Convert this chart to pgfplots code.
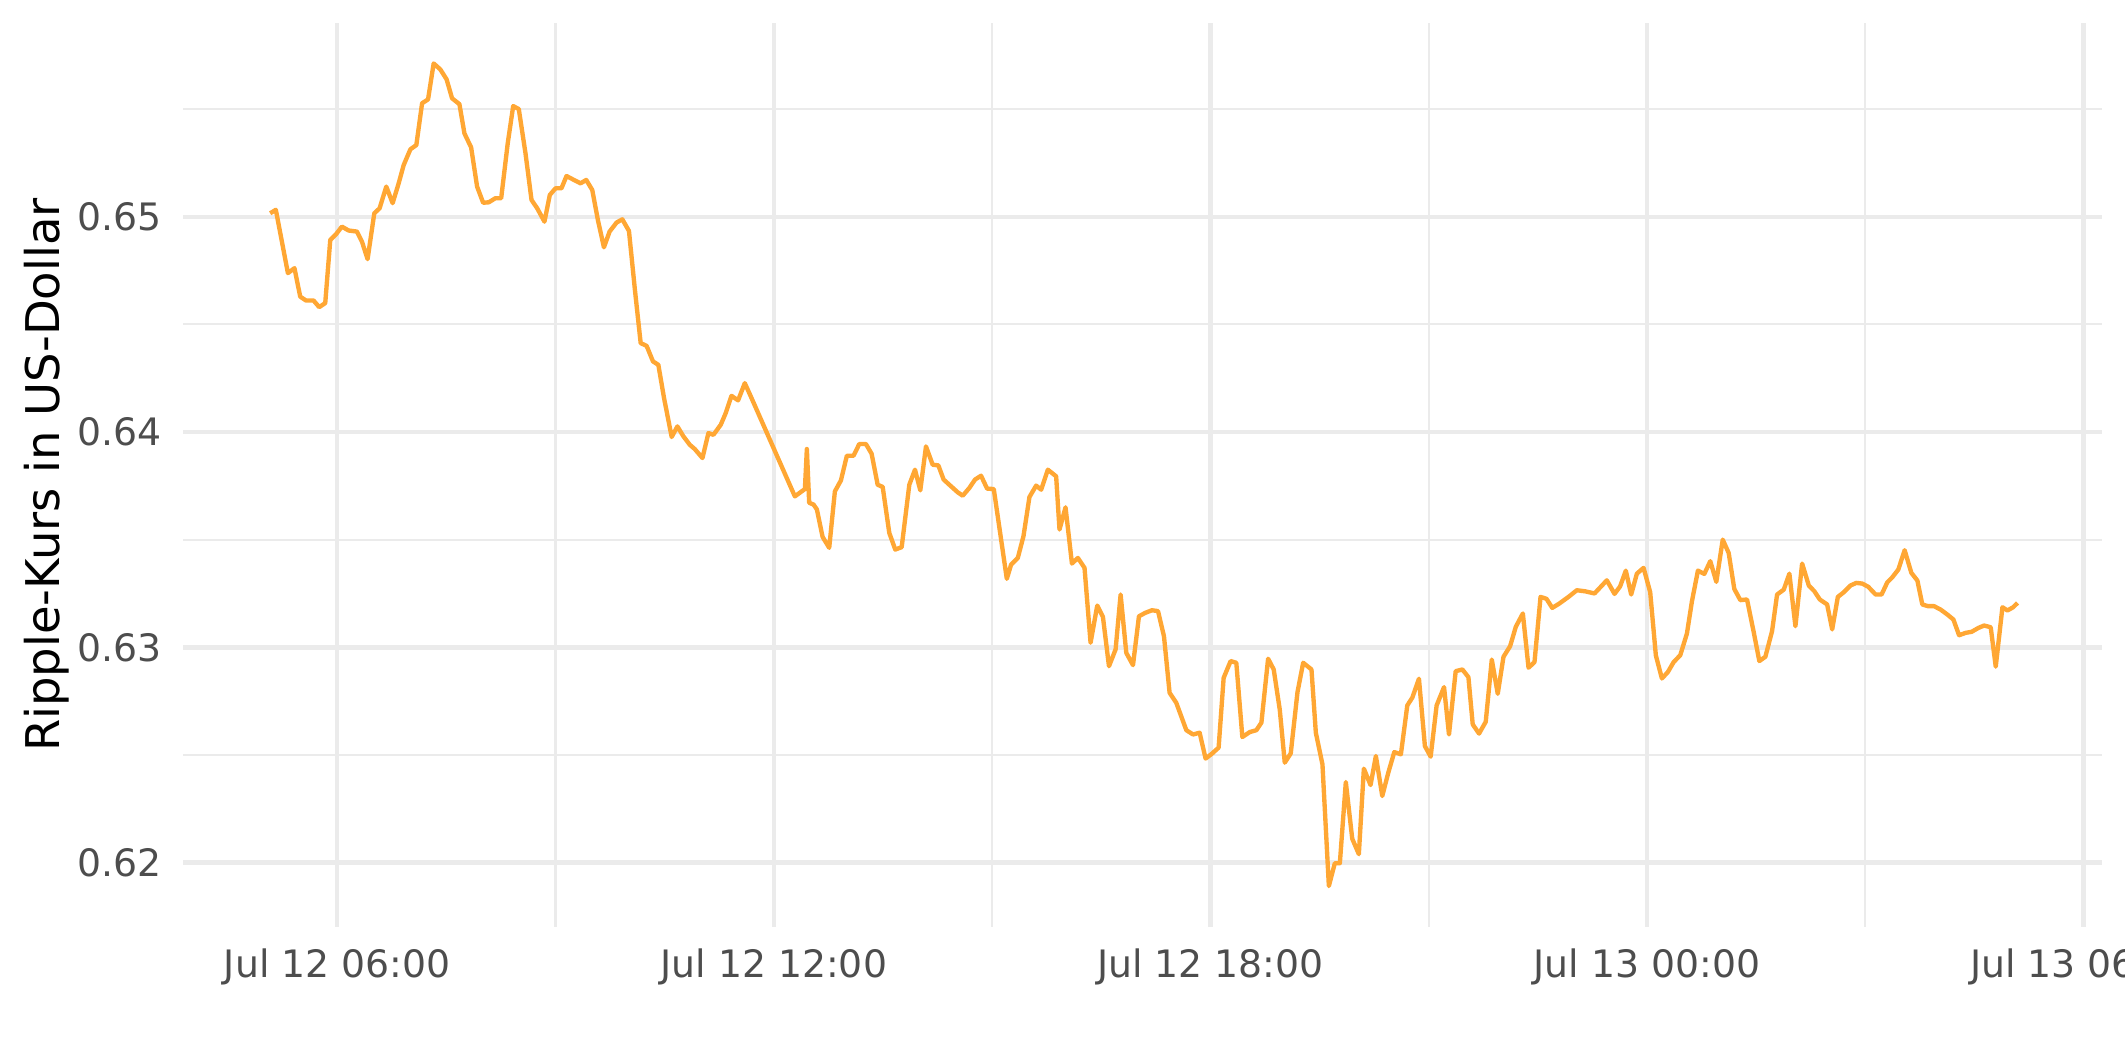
\documentclass[border=0pt]{standalone}
\usepackage{pgfplots}
\pgfplotsset{compat=1.18}
\usepackage{fontspec}
\setmainfont{DejaVu Sans}
\definecolor{lineor}{RGB}{255,167,52}
\definecolor{gridc}{RGB}{235,235,235}
\definecolor{ticktext}{RGB}{77,77,77}
\begin{document}
\begin{tikzpicture}
\useasboundingbox (-44.08pt,-32.45pt) rectangle (467.8pt,223.34pt);
\begin{axis}[at={(0,0)}, anchor=south west, scale only axis,
 width=462.2pt, height=217.8pt,
 xmin=3.88, xmax=30.25, ymin=0.617, ymax=0.659,
 axis line style={draw=none}, major tick length=0pt, minor tick length=0pt,
 xtick={6,12,18,24,30},
 xticklabels={Jul 12 06:00, Jul 12 12:00, Jul 12 18:00, Jul 13 00:00, Jul 13 06:00},
 minor xtick={9,15,21,27},
 ytick={0.62,0.63,0.64,0.65}, yticklabels={0.62,0.63,0.64,0.65},
 minor ytick={0.625,0.635,0.645,0.655},
 grid=both,
 major grid style={draw=gridc, line width=1.07pt},
 minor grid style={draw=gridc, line width=0.53pt},
 ticklabel style={font=\fontsize{9.1}{10}\selectfont, text=ticktext},
 xticklabel style={yshift=-1.6pt},
 yticklabel style={xshift=-1.6pt},
 ylabel={Ripple-Kurs in US-Dollar},
 ylabel style={font=\fontsize{11.2}{13}\selectfont, text=black, at={(axis description cs:-0.071,0.5)}, anchor=center},
]
\addplot[color=lineor, line width=1.05pt, line join=round] coordinates {
(5.078,0.65016) (5.156,0.65032) (5.322,0.64738) (5.412,0.64761) (5.491,0.64629)
(5.569,0.64611) (5.674,0.64611) (5.752,0.64580) (5.835,0.64599) (5.904,0.64892)
(5.986,0.64920) (6.064,0.64954) (6.156,0.64936) (6.271,0.64931) (6.340,0.64884)
(6.417,0.64803) (6.509,0.65016) (6.582,0.65039) (6.674,0.65140) (6.761,0.65063)
(6.844,0.65155) (6.913,0.65240) (7.005,0.65313) (7.087,0.65333) (7.166,0.65527)
(7.248,0.65545) (7.325,0.65712) (7.417,0.65684) (7.503,0.65638) (7.578,0.65550)
(7.679,0.65523) (7.748,0.65387) (7.840,0.65322) (7.922,0.65140) (8.005,0.65065)
(8.082,0.65067) (8.174,0.65086) (8.253,0.65086) (8.343,0.65341) (8.418,0.65514)
(8.495,0.65500) (8.587,0.65295) (8.670,0.65078) (8.748,0.65039) (8.848,0.64977)
(8.921,0.65101) (9.000,0.65132) (9.081,0.65132) (9.151,0.65189) (9.252,0.65171)
(9.344,0.65155) (9.422,0.65171) (9.505,0.65124) (9.582,0.64985) (9.665,0.64858)
(9.743,0.64931) (9.839,0.64973) (9.918,0.64988) (10.009,0.64934) (10.091,0.64660)
(10.170,0.64413) (10.252,0.64400) (10.339,0.64328) (10.413,0.64312) (10.491,0.64158)
(10.596,0.63977) (10.675,0.64026) (10.757,0.63980) (10.844,0.63941) (10.913,0.63921)
(11.019,0.63879) (11.101,0.63995) (11.170,0.63987) (11.271,0.64034) (11.339,0.64088)
(11.418,0.64168) (11.509,0.64147) (11.601,0.64227) (11.684,0.64165) (12.289,0.63701)
(12.427,0.63735) (12.454,0.63921) (12.486,0.63671) (12.546,0.63663) (12.592,0.63640)
(12.670,0.63513) (12.761,0.63462) (12.839,0.63724) (12.922,0.63775) (13.004,0.63890)
(13.096,0.63890) (13.174,0.63944) (13.266,0.63944) (13.344,0.63899) (13.427,0.63755)
(13.496,0.63745) (13.587,0.63531) (13.669,0.63454) (13.757,0.63465) (13.862,0.63755)
(13.940,0.63825) (14.013,0.63729) (14.091,0.63933) (14.183,0.63848) (14.261,0.63845)
(14.334,0.63779) (14.425,0.63751) (14.527,0.63720) (14.596,0.63704) (14.687,0.63740)
(14.765,0.63779) (14.848,0.63797) (14.931,0.63737) (15.023,0.63735) (15.114,0.63523)
(15.202,0.63318) (15.261,0.63384) (15.353,0.63415) (15.431,0.63516) (15.513,0.63698)
(15.605,0.63751) (15.674,0.63732) (15.766,0.63825) (15.880,0.63794) (15.926,0.63547)
(16.009,0.63650) (16.097,0.63389) (16.179,0.63415) (16.270,0.63369) (16.353,0.63021)
(16.445,0.63194) (16.523,0.63141) (16.606,0.62912) (16.697,0.62990) (16.766,0.63245)
(16.844,0.62974) (16.936,0.62917) (17.018,0.63144) (17.105,0.63160) (17.197,0.63172)
(17.280,0.63168) (17.362,0.63051) (17.439,0.62789) (17.531,0.62742) (17.669,0.62615)
(17.761,0.62595) (17.852,0.62603) (17.934,0.62483) (18.022,0.62506) (18.113,0.62534)
(18.182,0.62858) (18.278,0.62936) (18.356,0.62928) (18.439,0.62583) (18.540,0.62606)
(18.632,0.62615) (18.701,0.62650) (18.793,0.62947) (18.870,0.62897) (18.953,0.62711)
(19.022,0.62464) (19.104,0.62507) (19.197,0.62792) (19.275,0.62928) (19.389,0.62897)
(19.449,0.62603) (19.540,0.62456) (19.628,0.61891) (19.710,0.61997) (19.779,0.61997)
(19.861,0.62374) (19.949,0.62111) (20.040,0.62039) (20.109,0.62436) (20.201,0.62360)
(20.274,0.62495) (20.362,0.62309) (20.445,0.62418) (20.527,0.62513) (20.618,0.62503)
(20.706,0.62730) (20.775,0.62766) (20.866,0.62854) (20.948,0.62541) (21.027,0.62492)
(21.109,0.62730) (21.211,0.62815) (21.279,0.62595) (21.371,0.62889) (21.463,0.62897)
(21.546,0.62861) (21.605,0.62642) (21.692,0.62599) (21.784,0.62654) (21.867,0.62943)
(21.949,0.62784) (22.028,0.62956) (22.119,0.63005) (22.197,0.63095) (22.294,0.63157)
(22.372,0.62905) (22.454,0.62931) (22.537,0.63234) (22.619,0.63225) (22.698,0.63183)
(22.790,0.63202) (22.921,0.63234) (23.036,0.63265) (23.150,0.63260) (23.279,0.63250)
(23.448,0.63311) (23.554,0.63248) (23.631,0.63283) (23.709,0.63356) (23.783,0.63245)
(23.861,0.63342) (23.953,0.63369) (24.044,0.63256) (24.122,0.62962) (24.205,0.62855)
(24.287,0.62885) (24.366,0.62931) (24.457,0.62963) (24.549,0.63064) (24.618,0.63214)
(24.700,0.63356) (24.788,0.63341) (24.870,0.63400) (24.953,0.63304) (25.041,0.63500)
(25.123,0.63438) (25.200,0.63271) (25.283,0.63219) (25.375,0.63222) (25.467,0.63070)
(25.544,0.62936) (25.627,0.62956) (25.719,0.63075) (25.788,0.63245) (25.880,0.63268)
(25.957,0.63342) (26.040,0.63098) (26.132,0.63389) (26.224,0.63287) (26.301,0.63260)
(26.375,0.63222) (26.476,0.63199) (26.545,0.63083) (26.623,0.63234) (26.706,0.63256)
(26.797,0.63287) (26.876,0.63299) (26.958,0.63296) (27.041,0.63281) (27.142,0.63245)
(27.224,0.63245) (27.303,0.63302) (27.371,0.63325) (27.454,0.63361) (27.541,0.63451)
(27.633,0.63346) (27.716,0.63310) (27.784,0.63199) (27.862,0.63191) (27.945,0.63191)
(28.036,0.63175) (28.128,0.63152) (28.211,0.63129) (28.289,0.63056) (28.380,0.63067)
(28.462,0.63072) (28.555,0.63090) (28.633,0.63101) (28.724,0.63093) (28.793,0.62910)
(28.885,0.63186) (28.954,0.63171) (29.032,0.63186) (29.092,0.63206)
};
\end{axis}
\end{tikzpicture}
\end{document}
